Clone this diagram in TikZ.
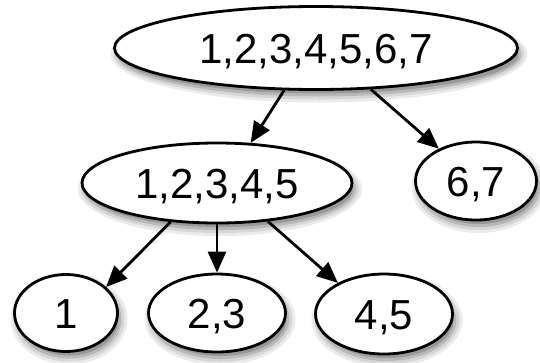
\documentclass[tikz,border=0pt]{standalone}
\usepackage{fontspec}
\setmainfont{Liberation Sans}
\usetikzlibrary{shapes.geometric,arrows.meta}
\newcommand\shadowell[4]{%
  \fill[black!8]  ({#1+3},{#2+6}) ellipse [x radius={#3+7}, y radius={#4+7}];
  \fill[black!16] ({#1+3},{#2+6}) ellipse [x radius={#3+4}, y radius={#4+4}];
  \fill[black!28] ({#1+3},{#2+6}) ellipse [x radius={#3+1}, y radius={#4+1}];
  \fill[black!40] ({#1+3},{#2+6}) ellipse [x radius={#3-2}, y radius={#4-2}];
}
\begin{document}
\begin{tikzpicture}[x=1pt,y=-1pt,
  setnode/.style={ellipse,draw=black,line width=2.8pt,fill=white,inner sep=0pt,
    font=\fontsize{42}{48}\selectfont,text height=30pt,text depth=0pt},
  link/.style={line width=2.8pt,-{Triangle[length=21pt,width=18pt]}}]
\useasboundingbox (0,0) rectangle (540,362);
\shadowell{316}{48}{201.5}{41.5}
\shadowell{217}{183}{135}{40}
\shadowell{476}{181}{60.5}{39}
\shadowell{66}{313}{51.5}{38.5}
\shadowell{217}{313}{68.5}{39}
\shadowell{384}{314}{68.5}{40}
\node[setnode,minimum width=403pt,minimum height=83pt] (top) at (316,48) {1,2,3,4,5,6,7};
\node[setnode,minimum width=270pt,minimum height=80pt] (mid) at (217,183) {1,2,3,4,5};
\node[setnode,minimum width=121pt,minimum height=78pt] (r67) at (476,181) {6,7};
\node[setnode,minimum width=103pt,minimum height=77pt] (b1) at (66,313) {1};
\node[setnode,minimum width=137pt,minimum height=78pt] (b23) at (217,313) {2,3};
\node[setnode,minimum width=137pt,minimum height=80pt] (b45) at (384,314) {4,5};
\draw[link] (top.233) -- (mid.50);
\draw[link] (top.323) -- (r67.139);
\draw[link] (mid.220) -- (b1.33);
\draw[link] (mid.270) -- (b23.90);
\draw[link] (mid.323) -- (b45.146);
\end{tikzpicture}
\end{document}
